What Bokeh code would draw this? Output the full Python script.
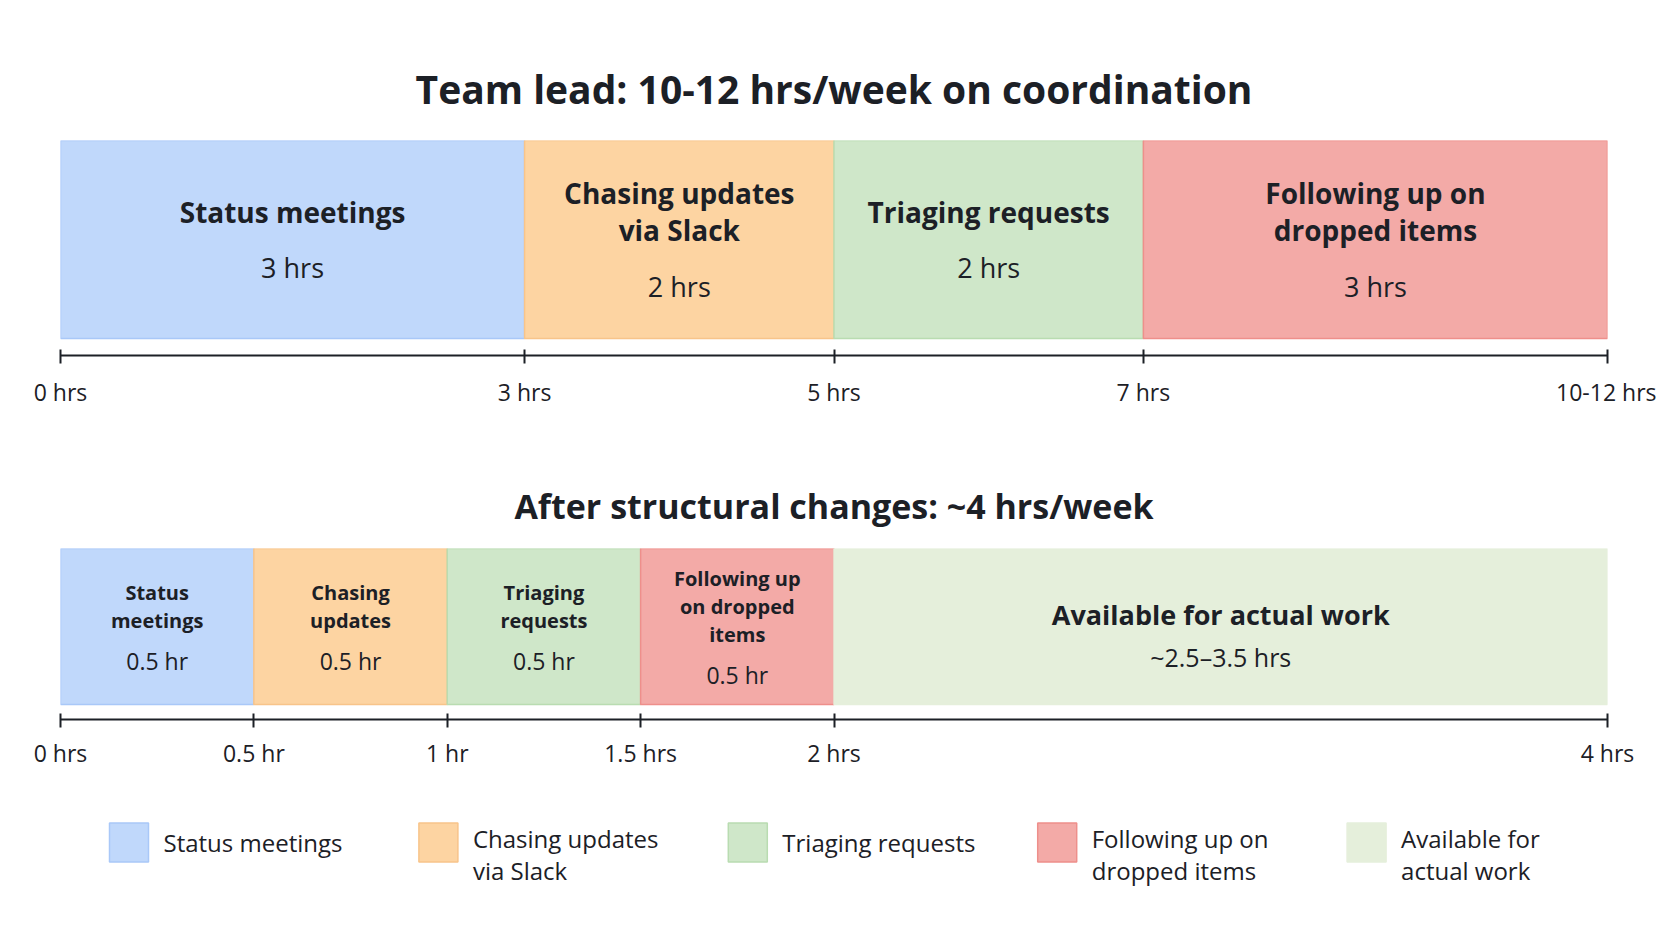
import numpy as np
from bokeh.plotting import figure
from bokeh.layouts import column
from bokeh.models import Range1d, FactorRange, FixedTicker, ColumnDataSource
from bokeh.transform import dodge
from bokeh.core.properties import value
from bokeh.embed import file_html
from bokeh.resources import INLINE

# ---------------- data ----------------
categories = ["Status meetings", "Chasing updates", "Triaging requests",
              "Following up", "Available"]

top_title = "Team lead: 10-12 hrs/week on coordination"
top_names = ["Status meetings", "Chasing updates\nvia Slack", "Triaging requests",
             "Following up on\ndropped items"]
top_hours = [3, 2, 2, 3]
top_value_labels = ["3 hrs", "2 hrs", "2 hrs", "3 hrs"]
top_tick_labels = ["0 hrs", "3 hrs", "5 hrs", "7 hrs", "10-12 hrs"]

bottom_title = "After structural changes: ~4 hrs/week"
bottom_names = ["Status\nmeetings", "Chasing\nupdates", "Triaging\nrequests",
                "Following up\non dropped\nitems", "Available for actual work"]
bottom_hours = [0.5, 0.5, 0.5, 0.5, 2.0]
bottom_value_labels = ["0.5 hr", "0.5 hr", "0.5 hr", "0.5 hr", "~2.5–3.5 hrs"]
bottom_tick_labels = ["0 hrs", "0.5 hr", "1 hr", "1.5 hrs", "2 hrs", "4 hrs"]

legend_labels = ["Status meetings", "Chasing updates\nvia Slack", "Triaging requests",
                 "Following up on\ndropped items", "Available for\nactual work"]

# ---------------- style ----------------
FILLS = ["#c0d8fb", "#fdd4a2", "#cfe7c9", "#f3aaa7", "#e5efdb"]
EDGES = ["#a9c8f8", "#f8c48a", "#b9dcb1", "#ee8f8b", "#e5efdb"]
INK = "#1c2026"
FONT = "Open Sans"
W = 1656
BL, BR = 60, 49
LH = 1.362  # font metric height per em


def make_chart(title, names, hours, value_labels, tick_labels, height,
               border_top, border_bottom, gap_frac, title_size, title_standoff,
               name_sizes, value_sizes, line_px, group_gap, shift, label_standoff):
    ends = np.cumsum(hours)
    starts = ends - np.array(hours)
    centers = (starts + ends) / 2
    n = len(hours)
    nlines = [s.count("\n") + 1 for s in names]
    name_off = [-(group_gap[i]) / 2 + shift[i] for i in range(n)]
    val_off = [(nlines[i] - 1) * line_px / 2 + group_gap[i] / 2 + shift[i] for i in range(n)]
    src = ColumnDataSource(dict(
        left=starts, right=ends, x=centers, y=[0.5] * n,
        cat=categories[:n], fill=FILLS[:n], edge=EDGES[:n],
        name=names, val=value_labels,
        name_off=name_off, val_off=val_off,
        name_size=name_sizes, val_size=value_sizes,
    ))
    p = figure(width=W, height=height, output_backend="svg", toolbar_location=None,
               x_range=Range1d(0, float(ends[-1])), y_range=Range1d(-gap_frac, 1),
               min_border_left=BL, min_border_right=BR,
               min_border_top=border_top, min_border_bottom=border_bottom,
               y_axis_location=None, outline_line_color=None,
               background_fill_color="white", border_fill_color="white")
    p.grid.visible = False
    p.title.text = title
    p.title.align = "center"
    p.title.text_font = FONT
    p.title.text_font_style = "bold"
    p.title.text_font_size = title_size
    p.title.text_color = INK
    p.title.standoff = title_standoff

    p.hbar(y="y", height=1, left="left", right="right", source=src,
           fill_color="fill", line_color="edge", line_width=1.5)
    ns = float(name_sizes[0].rstrip("px"))
    p.text(x="x", y="y", text="name", source=src, y_offset="name_off",
           text_align="center", text_baseline="middle",
           text_font=value(FONT), text_font_style="bold",
           text_font_size="name_size", text_color=INK,
           text_line_height=line_px / (ns * LH))
    p.text(x="x", y="y", text="val", source=src, y_offset="val_off",
           text_align="center", text_baseline="middle",
           text_font=value(FONT), text_font_size="val_size", text_color=INK)

    ticks = [0.0] + [float(e) for e in ends]
    ax = p.xaxis[0]
    ax.ticker = FixedTicker(ticks=ticks)
    ax.major_label_overrides = {t: lab for t, lab in zip(ticks, tick_labels)}
    ax.minor_tick_line_color = None
    ax.axis_line_color = INK
    ax.axis_line_width = 2
    ax.major_tick_line_color = INK
    ax.major_tick_line_width = 2
    ax.major_tick_in = 6
    ax.major_tick_out = 8
    ax.major_label_standoff = label_standoff
    ax.major_label_text_font = FONT
    ax.major_label_text_font_size = "23px"
    ax.major_label_text_color = INK
    return p


p1 = make_chart(top_title, top_names, top_hours, top_value_labels, top_tick_labels,
                height=428, border_top=140, border_bottom=73, gap_frac=17 / 198,
                title_size="39px", title_standoff=51,
                name_sizes=["28px"] * 4, value_sizes=["27px"] * 4,
                line_px=38, group_gap=[56] * 4, shift=[0] * 4, label_standoff=12)

p2 = make_chart(bottom_title, bottom_names, bottom_hours, bottom_value_labels,
                bottom_tick_labels,
                height=352, border_top=120, border_bottom=61, gap_frac=15 / 156,
                title_size="34px", title_standoff=39,
                name_sizes=["20px"] * 4 + ["27px"], value_sizes=["23px"] * 4 + ["25px"],
                line_px=28, group_gap=[40] * 4 + [42], shift=[0] * 4 + [9],
                label_standoff=9)

# ---------------- legend strip ----------------
PITCH = (W - BL - BR) / len(categories)
LEAD = 49.0  # first swatch's distance from the frame's left edge
leg_src = ColumnDataSource(dict(
    cat=categories, label=legend_labels, fill=FILLS, edge=EDGES, y=[0] * 5,
    off=[s.count("\n") * 12 for s in legend_labels],
))
xr = FactorRange(factors=categories, range_padding=0, factor_padding=0)
p3 = figure(width=W, height=124, output_backend="svg", toolbar_location=None,
            x_range=xr, y_range=Range1d(-1, 1),
            min_border_left=BL, min_border_right=BR, min_border_top=0, min_border_bottom=0,
            x_axis_location=None, y_axis_location=None, outline_line_color=None,
            background_fill_color="white", border_fill_color="white")
p3.grid.visible = False
p3.rect(x=dodge("cat", -0.5 + (LEAD + 19.5) / PITCH, range=xr), y="y", width=39, height=39,
        width_units="screen", height_units="screen", source=leg_src,
        fill_color="fill", line_color="edge", line_width=1.5)
p3.text(x=dodge("cat", -0.5 + (LEAD + 54) / PITCH, range=xr), y="y", text="label",
        source=leg_src, y_offset="off", text_align="left", text_baseline="middle",
        text_font=value(FONT), text_font_size="24px", text_color=INK,
        text_line_height=31 / (24 * LH))

layout = column(p1, p2, p3, spacing=0)
open("out.html", "w").write(file_html(layout, INLINE))
